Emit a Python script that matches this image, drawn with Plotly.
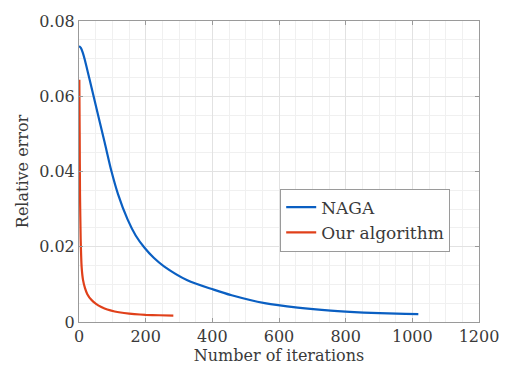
import plotly.graph_objects as go

# Convergence history: relative error vs. iteration count
naga_iter = [0, 6, 12, 18, 30, 47, 77, 97, 117, 146, 170, 196, 225, 255, 325,
             404, 458, 557, 656, 755, 854, 953, 1018]
naga_err = [0.0733, 0.0728, 0.0714, 0.0695, 0.0651, 0.0588, 0.0477, 0.0402,
            0.0340, 0.0272, 0.0230, 0.0198, 0.0170, 0.0148, 0.0111, 0.0086,
            0.0071, 0.0050, 0.0038, 0.0030, 0.0025, 0.0022, 0.0021]

ours_iter = [1, 2, 3, 5, 8, 12, 18, 25, 37, 50, 67, 85, 107, 135, 166, 200,
             240, 283]
ours_err = [0.0644, 0.050, 0.034, 0.022, 0.0145, 0.0112, 0.0090, 0.0074,
            0.0059, 0.0049, 0.0040, 0.0033, 0.0028, 0.0024, 0.0021, 0.0019,
            0.0018, 0.0017]

x_ticks = [0, 200, 400, 600, 800, 1000, 1200]
y_ticks = [0, 0.02, 0.04, 0.06, 0.08]
y_tick_text = ["0", "0.02", "0.04", "0.06", "0.08"]

font_family = "DejaVu Serif"
text_color = "#3a3a3a"

fig = go.Figure()
fig.add_trace(go.Scatter(
    x=naga_iter, y=naga_err, mode="lines", name="NAGA",
    line=dict(color="#0A5FC2", width=2.2, shape="spline", smoothing=0.8),
))
fig.add_trace(go.Scatter(
    x=ours_iter, y=ours_err, mode="lines", name="Our algorithm",
    line=dict(color="#E0401A", width=2.2, shape="spline", smoothing=0.4),
))

axis_common = dict(
    showline=True, linecolor="#9a9a9a", linewidth=1, mirror="ticks",
    ticks="inside", ticklen=4, tickcolor="#9a9a9a",
    showgrid=True, gridcolor="#e2e2e2", gridwidth=1,
    zeroline=False,
    tickfont=dict(family=font_family, size=16, color=text_color),
)

fig.update_xaxes(
    range=[0, 1200], tickvals=x_ticks,
    minor=dict(dtick=50, showgrid=True, gridcolor="#f0f0f0", gridwidth=1),
    title=dict(text="Number of iterations", standoff=2,
               font=dict(family=font_family, size=16, color=text_color)),
    **axis_common,
)
fig.update_yaxes(
    range=[0, 0.08], tickvals=y_ticks, ticktext=y_tick_text,
    minor=dict(dtick=0.005, showgrid=True, gridcolor="#f0f0f0", gridwidth=1),
    title=dict(text="Relative error", standoff=6,
               font=dict(family=font_family, size=16, color=text_color)),
    **axis_common,
)

fig.update_layout(
    width=511, height=380,
    margin=dict(l=79, r=28, t=14, b=58),
    paper_bgcolor="white", plot_bgcolor="white",
    font=dict(family=font_family),
    showlegend=True,
    legend=dict(
        x=0.503, y=0.443, xanchor="left", yanchor="top",
        bgcolor="white", bordercolor="#9a9a9a", borderwidth=1,
        font=dict(family=font_family, size=17, color=text_color),
        itemwidth=30, tracegroupgap=0,
    ),
)

fig.write_html("out.html")
